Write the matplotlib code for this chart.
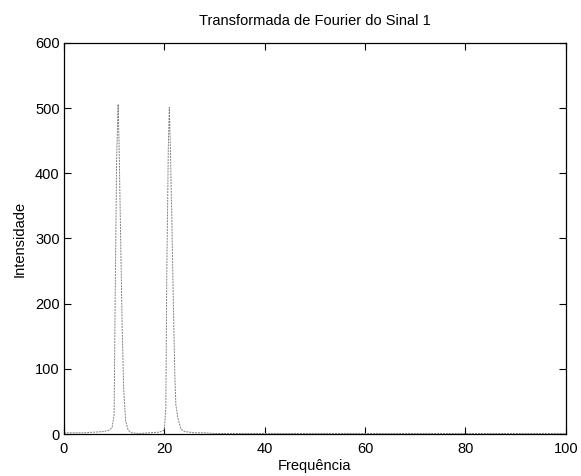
import numpy as np
from matplotlib import pyplot as plt

plt.rcParams['font.family'] = ['Liberation Sans', 'DejaVu Sans']

# espectro (frequencia x intensidade) lido ponto a ponto
freq = [0, 2, 4, 6, 8, 9, 9.6, 10.0, 10.2, 10.5, 10.8, 11.0, 11.3, 11.6, 11.9, 12.3,
        12.8, 13.5, 15, 17, 19, 20.0, 20.3, 20.5, 20.8, 21.0, 21.2, 21.5, 21.8, 22.1,
        22.3, 22.7, 23.3, 24, 26, 28, 30, 40, 60, 80, 100]
intens = [2, 2, 2, 3, 4, 6, 10, 30, 200, 420, 506, 440, 300, 165, 70, 20,
          6, 2, 1, 2, 3, 6, 40, 250, 440, 501, 440, 330, 200, 90,
          45, 25, 8, 4, 2, 2, 1, 1, 1, 1, 1]

xticks = [0, 20, 40, 60, 80, 100]
yticks = [0, 100, 200, 300, 400, 500, 600]

fig = plt.figure(figsize=(5.81, 4.76), dpi=100)
ax = fig.add_axes([0.110, 0.088, 0.864, 0.822])

ax.plot(freq, intens, color='0.5', linewidth=0.7, linestyle=(0, (2, 1)))

ax.set_xlim(0, 100)
ax.set_ylim(0, 600)
ax.set_xticks(xticks)
ax.set_yticks(yticks)
ax.tick_params(direction='in', length=5, width=0.8, top=True, right=True,
               labelsize=10.5)
ax.tick_params(axis='x', pad=6)
ax.tick_params(axis='y', pad=3)
for s in ax.spines.values():
    s.set_linewidth(0.9)

ax.set_title('Transformada de Fourier do Sinal 1', fontsize=10.5, pad=13)
ax.set_xlabel('Frequência', fontsize=10.5, labelpad=2)
ax.set_ylabel('Intensidade', fontsize=10.5, labelpad=6)

fig.savefig('out.png', dpi=100)
